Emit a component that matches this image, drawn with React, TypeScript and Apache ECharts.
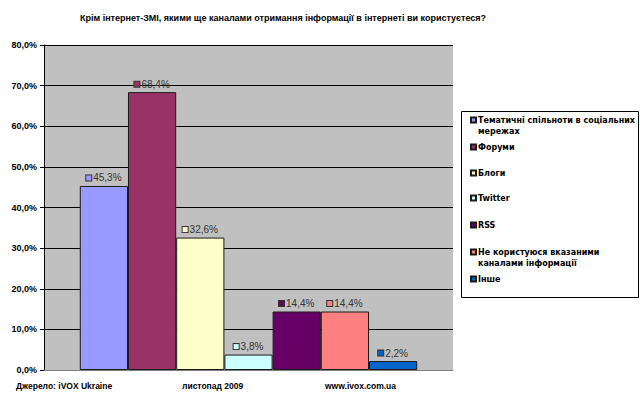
import React, { useEffect, useRef } from "react";
import * as echarts from "echarts";

const titleText = "Крім інтернет-ЗМІ, якими ще каналами отримання інформації в інтернеті ви користуєтеся?";
const seriesNames = [
  "Тематичні спільноти в соціальних\nмережах",
  "Форуми",
  "Блоги",
  "Twitter",
  "RSS",
  "Не користуюся вказаними\nканалами інформації",
  "Інше",
];
const seriesValues = [45.3, 68.4, 32.6, 3.8, 14.4, 14.4, 2.2];
const seriesColors = ["#9999ff", "#993366", "#ffffcc", "#ccffff", "#660066", "#ff8080", "#0066cc"];
const yTicks = { min: 0, max: 80, interval: 10 };
const footerTexts = ["Джерело: iVOX Ukraine", "листопад 2009", "www.ivox.com.ua"];

const legendCenters = [120, 147, 173, 198, 225, 252, 279];
const footerX = [16, 182, 325];

const fmt = (v: number) => v.toFixed(1).replace(".", ",") + "%";

export default function App() {
  const ref = useRef<HTMLDivElement>(null);
  useEffect(() => {
    document.body.style.margin = "0";
    const chart = echarts.init(ref.current!, null, { renderer: "svg" });
    const series = seriesNames.map((name, i) => ({
      type: "bar",
      name,
      data: [seriesValues[i]],
      barGap: "0%",
      barCategoryGap: "17.5%",
      itemStyle: { color: seriesColors[i], borderColor: "#1a1a1a", borderWidth: 1 },
      label: {
        show: true,
        position: "top",
        distance: 3,
        formatter: (p: any) => "{s|}{v|" + fmt(p.value) + "}",
        rich: {
          s: { width: 5, height: 5, backgroundColor: seriesColors[i], borderColor: "#333", borderWidth: 1 },
          v: { fontSize: 10, color: "#333", fontFamily: "Liberation Sans", padding: [0, 0, 0, 2] },
        },
      },
    }));
    const legends = seriesNames.map((name, i) => {
      const twoLine = name.includes("\n");
      return {
        data: [name],
        orient: "vertical",
        left: 470,
        top: legendCenters[i] - (twoLine ? 16.5 : 5.5),
        padding: 0,
        itemWidth: 5,
        itemHeight: 5,
        icon: "rect",
        selectedMode: false,
        formatter: (n: string) => (twoLine ? "\n" + n : n),
        textStyle: {
          fontFamily: "DejaVu Sans",
          fontWeight: "bold",
          fontSize: 8,
          color: "#000",
          lineHeight: 11,
          padding: [0, 0, 0, -3],
        },
      };
    });
    chart.setOption({
      animation: false,
      backgroundColor: "#fff",
      title: {
        text: titleText,
        left: 75,
        top: 8,
        textStyle: {
          fontFamily: "Liberation Sans",
          fontWeight: "bold",
          fontSize: 9,
          color: "#000",
        },
      },
      grid: {
        left: 44,
        top: 45,
        right: 187,
        bottom: 29,
        show: true,
        backgroundColor: "#c0c0c0",
        borderWidth: 0,
      },
      legend: legends,
      xAxis: {
        type: "category",
        data: [""],
        axisLine: { lineStyle: { color: "#808080", width: 1 } },
        axisTick: { show: false },
        axisLabel: { show: false },
      },
      yAxis: {
        type: "value",
        min: yTicks.min,
        max: yTicks.max,
        interval: yTicks.interval,
        axisLine: { show: true, lineStyle: { color: "#000" } },
        axisTick: { show: true, length: 4, lineStyle: { color: "#000" } },
        splitLine: { lineStyle: { color: "#000", width: 1 } },
        axisLabel: {
          formatter: (v: number) => fmt(v),
          margin: 7,
          fontFamily: "Liberation Sans",
          fontWeight: "bold",
          fontSize: 9,
          color: "#000",
        },
      },
      graphic: [
        {
          type: "rect",
          shape: { x: 461.5, y: 111.5, width: 177, height: 186 },
          style: { fill: "#fff", stroke: "#000", lineWidth: 1 },
          z: -1,
        },
        ...footerTexts.map((t, i) => ({
          type: "text",
          x: footerX[i],
          y: 386,
          style: {
            text: t,
            fontFamily: "Liberation Sans",
            fontWeight: "bold",
            fontSize: 8.5,
            fill: "#000",
            verticalAlign: "middle",
          },
        })),
      ],
      series,
    });
    return () => chart.dispose();
  }, []);
  return <div ref={ref} style={{ width: 640, height: 399 }} />;
}
